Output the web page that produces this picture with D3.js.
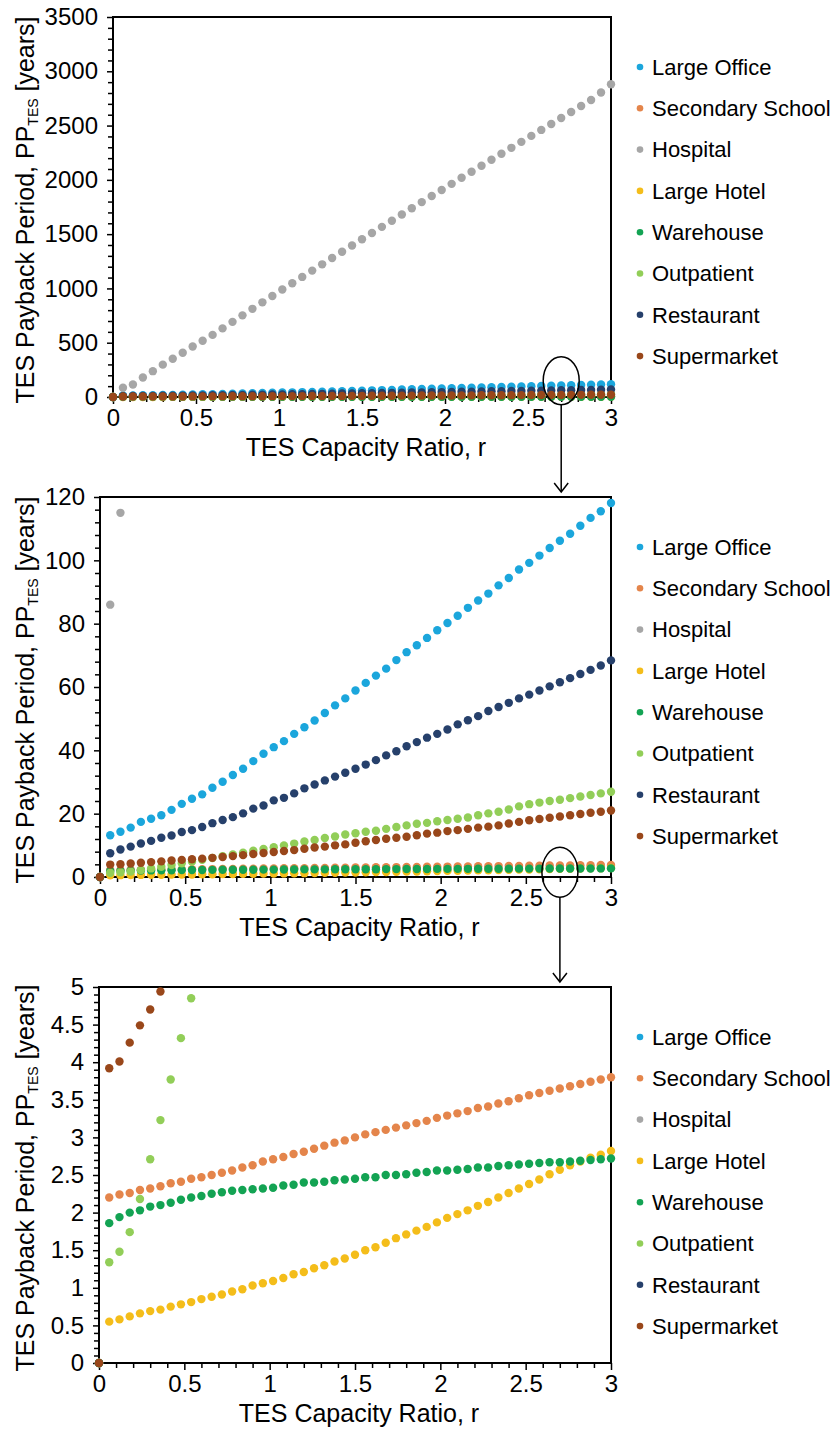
<!DOCTYPE html>
<html>
<head>
<meta charset="utf-8">
<title>TES Payback Period</title>
<script src="https://cdn.jsdelivr.net/npm/d3@7"></script>
<style>
  body { margin: 0; background: #fff; font-family: "Liberation Sans", Arial, sans-serif; }
  .tick text { font-size: 24px; fill: #000; font-family: "Liberation Sans", Arial, sans-serif; }
  .tick line { stroke: #000; stroke-width: 1.5px; }
  .frame { fill: none; stroke: #000; stroke-width: 2px; }
  .axis-title { font-size: 25px; fill: #000; }
  .legend text { font-size: 22px; fill: #000; }
</style>
</head>
<body>
<svg id="chart" width="837" height="1441"></svg>
<script>
// TES capacity ratio r (x values)
const ratios = [0, 0.06, 0.12, 0.18, 0.24, 0.30, 0.36, 0.42, 0.48, 0.54, 0.60,
  0.66, 0.72, 0.78, 0.84, 0.90, 0.96, 1.02, 1.08, 1.14, 1.20,
  1.26, 1.32, 1.38, 1.44, 1.50, 1.56, 1.62, 1.68, 1.74, 1.80,
  1.86, 1.92, 1.98, 2.04, 2.10, 2.16, 2.22, 2.28, 2.34, 2.40,
  2.46, 2.52, 2.58, 2.64, 2.70, 2.76, 2.82, 2.88, 2.94, 3.00];

// payback period [years] per building type
const largeOffice = [0, 13.2, 14.3, 15.6, 17.4, 18.4, 19.5, 21.2, 23.1, 24.7, 26.1,
  28.2, 30.1, 32.2, 34.2, 36.6, 38.9, 41.0, 42.9, 45.2, 47.3,
  49.4, 51.8, 54.2, 56.4, 58.9, 61.3, 63.6, 65.8, 68.5, 71.0,
  73.2, 75.5, 77.9, 80.2, 82.5, 85.0, 87.3, 89.5, 92.1, 94.4,
  97.1, 99.2, 101.5, 103.9, 106.2, 108.4, 110.9, 113.4, 115.5, 118.1];
const secondarySchool = [0, 2.20, 2.24, 2.26, 2.30, 2.32, 2.35, 2.39, 2.41, 2.45, 2.47,
  2.50, 2.53, 2.56, 2.60, 2.63, 2.68, 2.71, 2.74, 2.78, 2.81,
  2.85, 2.89, 2.93, 2.96, 3.00, 3.04, 3.07, 3.10, 3.13, 3.16,
  3.19, 3.22, 3.26, 3.29, 3.32, 3.35, 3.39, 3.41, 3.45, 3.48,
  3.52, 3.56, 3.59, 3.62, 3.65, 3.68, 3.71, 3.74, 3.77, 3.80];
const hospital = [0, 86, 115, 180, 238, 298, 352, 408, 465, 518, 572,
  632, 692, 752, 812, 872, 930, 990, 1048, 1106, 1164,
  1222, 1280, 1338, 1396, 1453, 1510, 1567, 1624, 1681, 1738,
  1795, 1851, 1907, 1963, 2019, 2075, 2130, 2185, 2240, 2295,
  2350, 2405, 2460, 2515, 2570, 2625, 2680, 2735, 2805, 2880];
const largeHotel = [0, 0.55, 0.58, 0.62, 0.66, 0.69, 0.71, 0.75, 0.78, 0.81, 0.85,
  0.88, 0.91, 0.95, 0.98, 1.03, 1.06, 1.09, 1.13, 1.18, 1.21,
  1.26, 1.30, 1.35, 1.39, 1.44, 1.50, 1.54, 1.60, 1.66, 1.71,
  1.76, 1.81, 1.87, 1.93, 1.98, 2.03, 2.09, 2.14, 2.20, 2.26,
  2.32, 2.38, 2.44, 2.51, 2.57, 2.63, 2.68, 2.73, 2.77, 2.82];
const warehouse = [0, 1.86, 1.94, 2.00, 2.03, 2.08, 2.10, 2.13, 2.17, 2.20, 2.22,
  2.25, 2.27, 2.29, 2.30, 2.31, 2.32, 2.33, 2.36, 2.37, 2.40,
  2.40, 2.41, 2.43, 2.44, 2.45, 2.47, 2.47, 2.50, 2.50, 2.51,
  2.53, 2.54, 2.56, 2.56, 2.57, 2.58, 2.60, 2.60, 2.62, 2.63,
  2.64, 2.65, 2.66, 2.67, 2.67, 2.68, 2.69, 2.70, 2.71, 2.72];
const outpatient = [0, 1.34, 1.48, 1.74, 2.18, 2.71, 3.23, 3.77, 4.32, 4.85, 5.45,
  6.0, 6.6, 7.15, 7.7, 8.3, 8.85, 9.4, 9.95, 10.55, 11.2,
  11.7, 12.3, 12.8, 13.4, 13.8, 14.3, 14.6, 15.2, 15.8, 16.3,
  16.8, 17.1, 17.6, 18.0, 18.4, 18.8, 19.5, 20.1, 20.6, 21.3,
  22.3, 23.0, 23.5, 24.0, 24.4, 24.9, 25.4, 25.9, 26.4, 26.9];
const restaurant = [0, 7.5, 8.7, 9.6, 10.6, 11.4, 12.4, 13.1, 14.2, 14.8, 15.8,
  17.0, 18.0, 18.9, 20.1, 21.6, 22.6, 24.2, 25.0, 26.4, 28.0,
  29.2, 30.5, 31.7, 32.9, 34.2, 35.5, 36.9, 38.4, 39.7, 41.3,
  42.6, 44.0, 45.2, 46.6, 48.2, 49.5, 50.8, 52.4, 53.7, 55.0,
  56.4, 57.6, 58.9, 60.2, 61.5, 62.8, 64.1, 65.4, 66.8, 68.4];
const supermarket = [0, 3.92, 4.01, 4.26, 4.49, 4.70, 4.94, 5.2, 5.4, 5.6, 5.8,
  6.05, 6.3, 6.6, 6.9, 7.25, 7.6, 7.9, 8.2, 8.5, 8.9,
  9.3, 9.6, 10.0, 10.3, 10.8, 11.3, 11.7, 12.1, 12.4, 12.7,
  13.2, 13.7, 14.0, 14.5, 14.8, 15.2, 15.6, 15.9, 16.3, 16.9,
  17.4, 17.9, 18.3, 18.7, 19.1, 19.5, 19.9, 20.3, 20.6, 21.0];

const seriesNames = ["Large Office", "Secondary School", "Hospital", "Large Hotel",
  "Warehouse", "Outpatient", "Restaurant", "Supermarket"];
const seriesValues = [largeOffice, secondarySchool, hospital, largeHotel,
  warehouse, outpatient, restaurant, supermarket];
const seriesColors = ["#1BA6DC", "#E4854B", "#A6A6A6", "#F4BD1A",
  "#13A353", "#92CE58", "#26406B", "#99471A"];

// axis ticks
const xTicks = [0, 0.5, 1, 1.5, 2, 2.5, 3];
const yTicksFull = [0, 500, 1000, 1500, 2000, 2500, 3000, 3500];
const yTicksMid = [0, 20, 40, 60, 80, 100, 120];
const yTicksLow = [0, 0.5, 1, 1.5, 2, 2.5, 3, 3.5, 4, 4.5, 5];

const panels = [
  { top: 17,  bottom: 397,  left: 113, ticks: yTicksFull, minor: 100, ring: 150, ringRy: 24 },
  { top: 497, bottom: 877,  left: 100, ticks: yTicksMid,  minor: 4,   ring: 1.5, ringRy: 25 },
  { top: 987, bottom: 1363, left: 99,  ticks: yTicksLow,  minor: 0.1 }
];
const right = 611;
const ringAt = 2.7;

const svg = d3.select("#chart");

panels.forEach((p, pi) => {
  const yMax = p.ticks[p.ticks.length - 1];
  const x = d3.scaleLinear().domain([0, 3]).range([p.left, right]);
  const y = d3.scaleLinear().domain([0, yMax]).range([p.bottom, p.top]);
  const g = svg.append("g");

  // minor ticks
  const yMinor = d3.range(0, yMax + p.minor / 2, p.minor).filter(v => !p.ticks.some(t => Math.abs(t - v) < 1e-9));
  g.append("g").attr("transform", `translate(${p.left},0)`)
    .call(d3.axisLeft(y).tickValues(yMinor).tickSize(5).tickFormat(""))
    .call(a => a.select(".domain").remove());
  const xMinor = d3.range(0, 3.05, 0.1).filter(v => !xTicks.some(t => Math.abs(t - v) < 1e-9));
  g.append("g").attr("transform", `translate(0,${p.bottom})`)
    .call(d3.axisBottom(x).tickValues(xMinor).tickSize(5).tickFormat(""))
    .call(a => a.select(".domain").remove());

  // major ticks + labels
  g.append("g").attr("transform", `translate(${p.left},0)`)
    .call(d3.axisLeft(y).tickValues(p.ticks).tickSize(6).tickPadding(9).tickFormat(d => String(d)))
    .call(a => a.select(".domain").remove());
  g.append("g").attr("transform", `translate(0,${p.bottom})`)
    .call(d3.axisBottom(x).tickValues(xTicks).tickSize(7).tickPadding(5).tickFormat(d => String(d)))
    .call(a => a.select(".domain").remove());

  g.append("rect").attr("class", "frame")
    .attr("x", p.left).attr("y", p.top)
    .attr("width", right - p.left).attr("height", p.bottom - p.top);

  // points
  seriesValues.forEach((vals, si) => {
    const pts = ratios.map((r, i) => ({ r, v: vals[i] })).filter(d => d.v <= yMax);
    g.append("g").selectAll("circle").data(pts).join("circle")
      .attr("cx", d => x(d.r)).attr("cy", d => y(d.v))
      .attr("r", 4.2).attr("fill", seriesColors[si]);
  });

  // axis titles
  g.append("text").attr("class", "axis-title")
    .attr("x", (p.left + right) / 2 + 4).attr("y", p.bottom + 59)
    .attr("text-anchor", "middle").text("TES Capacity Ratio, r");

  const yt = g.append("text").attr("class", "axis-title")
    .attr("text-anchor", "middle")
    .attr("transform", `translate(34,${(p.top + p.bottom) / 2 + 3}) rotate(-90)`);
  yt.append("tspan").text("TES Payback Period, PP");
  yt.append("tspan").attr("font-size", 14).attr("dy", 4).text("TES");
  yt.append("tspan").attr("dy", -4).text(" [years]");

  // legend
  const lg = g.append("g").attr("class", "legend")
    .attr("transform", `translate(640,${p.top + 50})`);
  seriesNames.forEach((name, si) => {
    const item = lg.append("g").attr("transform", `translate(0,${si * 41.3})`);
    item.append("circle").attr("r", 3.3).attr("fill", seriesColors[si]);
    item.append("text").attr("x", 12).attr("dy", "0.35em").text(name);
  });

  // zoom ring + arrow to the next panel
  if (p.ring !== undefined) {
    const cx = x(ringAt), cy = y(p.ring);
    g.append("ellipse").attr("cx", cx).attr("cy", cy)
      .attr("rx", 18).attr("ry", p.ringRy)
      .attr("fill", "none").attr("stroke", "#000").attr("stroke-width", 1.5);
    const yEnd = panels[pi + 1].top - 5;
    g.append("line").attr("x1", cx).attr("x2", cx)
      .attr("y1", cy + p.ringRy).attr("y2", yEnd)
      .attr("stroke", "#000").attr("stroke-width", 1.5);
    g.append("path")
      .attr("d", `M${cx - 7},${yEnd - 9}L${cx},${yEnd}L${cx + 7},${yEnd - 9}`)
      .attr("fill", "none").attr("stroke", "#000").attr("stroke-width", 1.5);
  }
});
</script>
</body>
</html>
